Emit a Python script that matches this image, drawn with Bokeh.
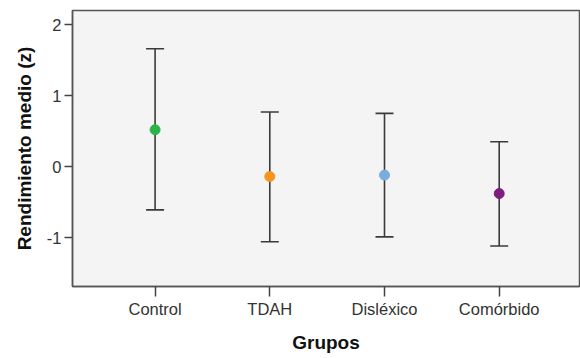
from bokeh.plotting import figure
from bokeh.models import ColumnDataSource, Range1d, FixedTicker, Whisker, TeeHead
from bokeh.embed import file_html
from bokeh.resources import INLINE

groups = ["Control", "TDAH", "Disléxico", "Comórbido"]
means = [0.52, -0.14, -0.12, -0.38]
upper = [1.66, 0.77, 0.75, 0.35]
lower = [-0.61, -1.06, -0.99, -1.12]
colors = ["#2bb44a", "#f7941d", "#7aaddf", "#7d1e7e"]
y_ticks = [-1, 0, 1, 2]
y_tick_labels = ["-1", "0", "1", "2"]

xs = list(range(len(groups)))
src = ColumnDataSource(dict(x=xs, mean=means, upper=upper, lower=lower, color=colors))

p = figure(width=580, height=358, output_backend="svg", toolbar_location=None,
           x_range=Range1d(-0.72, 3.70), y_range=Range1d(-1.69, 2.2),
           min_border_left=72, min_border_right=1, min_border_top=10, min_border_bottom=72)
p.background_fill_color = "#f4f4f4"
p.border_fill_color = "white"
p.outline_line_color = "#555555"
p.outline_line_width = 1.5
p.grid.visible = False

w = Whisker(source=src, base="x", upper="upper", lower="lower", dimension="height",
            line_color="#3a3a3a", line_width=1.6,
            upper_head=TeeHead(size=18, line_color="#3a3a3a", line_width=1.6),
            lower_head=TeeHead(size=18, line_color="#3a3a3a", line_width=1.6))
p.add_layout(w)
p.scatter("x", "mean", source=src, size=10, fill_color="color", line_color="color")

p.xaxis.ticker = FixedTicker(ticks=xs)
p.xaxis.major_label_overrides = {i: g for i, g in enumerate(groups)}
p.yaxis.ticker = FixedTicker(ticks=y_ticks)
p.yaxis.major_label_overrides = {t: s for t, s in zip(y_ticks, y_tick_labels)}
for ax in (p.xaxis, p.yaxis):
    ax.axis_line_color = "#555555"
    ax.axis_line_width = 1.5
    ax.major_tick_line_color = "#444444"
    ax.major_tick_line_width = 1.5
    ax.minor_tick_line_color = None
    ax.major_tick_in = 0
    ax.major_label_text_font = "Liberation Sans"
    ax.major_label_text_font_size = "16.5px"
    ax.major_label_text_color = "#333333"
    ax.axis_label_text_font = "Liberation Sans"
    ax.axis_label_text_font_size = "19px"
    ax.axis_label_text_font_style = "bold"
    ax.axis_label_text_color = "#111111"
p.xaxis.major_tick_out = 10
p.yaxis.major_tick_out = 8
p.xaxis.major_label_standoff = 3
p.yaxis.major_label_standoff = 3
p.xaxis.axis_label = "Grupos"
p.yaxis.axis_label = "Rendimiento medio (z)"
p.xaxis.axis_label_standoff = 11
p.yaxis.axis_label_standoff = 9

open("out.html", "w").write(file_html(p, INLINE))
